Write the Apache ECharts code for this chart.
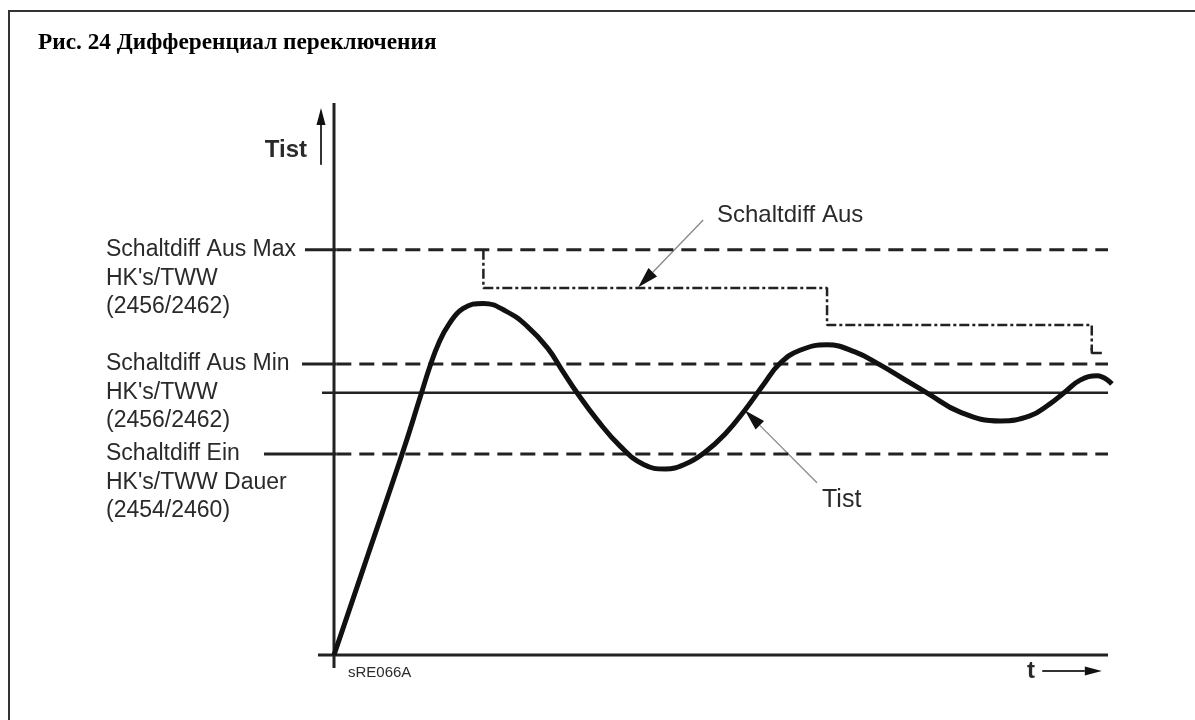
<!DOCTYPE html>
<html>
<head>
<meta charset="utf-8">
<script src="https://cdn.jsdelivr.net/npm/echarts@6/dist/echarts.min.js"></script>
<style>
    html, body { margin: 0; padding: 0; background: #fff; }
    #chart { width: 1195px; height: 720px; }
</style>
</head>
<body>
<div id="chart"></div>
<script>
// Istwert-Verlauf (t, Tist) in relativen Einheiten, t: 0..100, Tist: 0..100
const tistCurve = [
    [0, 0], [4.4, 18.2], [8.8, 36.4], [11.2, 47.0], [12.4, 52.3], [13.5, 56.4], [14.8, 59.8],
    [16.7, 62.8], [19.3, 63.7], [22.2, 62.3], [25.0, 59.5], [27.6, 55.6], [29.6, 51.3],
    [31.4, 47.5], [34.0, 42.6], [37.0, 37.8], [40.0, 34.5], [42.8, 33.7], [45.4, 34.6],
    [47.8, 36.6], [50.5, 40.0], [53.1, 44.4], [55.5, 49.0], [57.6, 52.8], [60.2, 55.2],
    [63.7, 56.2], [67.3, 54.9], [70.5, 52.6], [73.6, 50.0], [76.6, 47.5], [80.9, 44.0],
    [86.1, 42.4], [89.9, 43.3], [92.4, 45.4], [94.4, 47.6], [96.4, 49.8], [98.6, 50.6],
    [100.5, 49.1]
];

// Schaltdiff Aus (Stufenlinie, strichpunktiert) und kurzes Endstück
const schaltdiffAus = [
    [19.3, 73.4], [19.3, 66.5], [63.7, 66.5], [63.7, 59.8], [97.9, 59.8], [97.9, 55.2]
];
const schaltdiffAusTail = [[97.9, 55.6], [97.9, 54.7], [99.2, 54.7]];

// Schaltpegel: Aus Max, Aus Min, Sollwert, Ein
const levelValues = [73.4, 52.7, 47.5, 36.4];
const levelTickStart = [-3.75, -4.13, -1.55, -9.04];
const levelDashed = [true, true, false, true];
const levelLabels = [
    ['Schaltdiff Aus Max', "HK's/TWW", '(2456/2462)'],
    ['Schaltdiff Aus Min', "HK's/TWW", '(2456/2462)'],
    null,
    ['Schaltdiff Ein', "HK's/TWW Dauer", '(2454/2460)']
];

// Achsen
const xAxisLine = [[-2.07, 0], [100, 0]];
const yAxisLine = [[0, -2.36], [0, 100]];

// Pfeile [x1, y1, x2, y2]
const axisArrows = [
    [-1.68, 88.8, -1.68, 99.1],
    [91.5, -2.9, 99.2, -2.9]
];
const pointerArrows = [
    [47.7, 78.8, 39.3, 66.6],
    [62.4, 31.2, 53.1, 44.3]
];

var myChart = echarts.init(document.getElementById('chart'));

var ink = '#222';
var series = [];

function plainLine(data, style) {
    return {
        type: 'line',
        data: data,
        symbol: 'none',
        silent: true,
        animation: false,
        clip: false,
        lineStyle: style
    };
}

series.push(plainLine(xAxisLine, { color: ink, width: 3 }));
series.push(plainLine(yAxisLine, { color: ink, width: 3 }));

levelValues.forEach(function (v, i) {
    if (levelDashed[i]) {
        series.push(plainLine([[levelTickStart[i], v], [0.3, v]], { color: ink, width: 3 }));
        series.push(plainLine([[0.3, v], [100, v]], { color: ink, width: 3, type: [15, 8] }));
    } else {
        series.push(plainLine([[levelTickStart[i], v], [100, v]], { color: ink, width: 2.5 }));
    }
});

series.push(plainLine(schaltdiffAus, { color: ink, width: 2.5, type: [10, 3, 3, 3] }));
series.push(plainLine(schaltdiffAusTail, { color: ink, width: 2.5 }));

var curve = plainLine(tistCurve, { color: '#111', width: 5 });
curve.smooth = 0.45;
series.push(curve);

function arrowSeries(data, lineColor, lineWidth, headLen, headHalf) {
    return {
        type: 'custom',
        data: data,
        silent: true,
        animation: false,
        renderItem: function (params, api) {
            var p1 = api.coord([api.value(0), api.value(1)]);
            var p2 = api.coord([api.value(2), api.value(3)]);
            var dx = p2[0] - p1[0], dy = p2[1] - p1[1];
            var len = Math.sqrt(dx * dx + dy * dy);
            var ux = dx / len, uy = dy / len;
            var bx = p2[0] - ux * headLen, by = p2[1] - uy * headLen;
            return {
                type: 'group',
                children: [
                    {
                        type: 'line',
                        shape: { x1: p1[0], y1: p1[1], x2: bx, y2: by },
                        style: { stroke: lineColor, lineWidth: lineWidth }
                    },
                    {
                        type: 'polygon',
                        shape: { points: [p2, [bx - uy * headHalf, by + ux * headHalf], [bx + uy * headHalf, by - ux * headHalf]] },
                        style: { fill: '#111' }
                    }
                ]
            };
        }
    };
}

series.push(arrowSeries(axisArrows, '#333', 2, 17, 4.5));
series.push(arrowSeries(pointerArrows, '#888', 1.3, 21, 6));

myChart.setOption({
    animation: false,
    grid: { left: 256.6, top: 103, width: 866.9, height: 579.6 },
    xAxis: {
        type: 'value', min: -10, max: 102,
        axisLine: { show: false }, axisTick: { show: false },
        axisLabel: { show: false }, splitLine: { show: false }
    },
    yAxis: {
        type: 'value', min: -5, max: 100,
        axisLine: { show: false }, axisTick: { show: false },
        axisLabel: { show: false }, splitLine: { show: false }
    },
    series: series
});

// Texte
var sans = '"Liberation Sans", Arial, sans-serif';
var txtColor = '#2a2a2a';
var graphics = [
    {
        type: 'rect',
        shape: { x: 9, y: 11, width: 1300, height: 800 },
        style: { fill: 'none', stroke: '#333', lineWidth: 2 },
        silent: true
    },
    {
        type: 'text', x: 38, y: 43,
        style: {
            text: 'Рис. 24 Дифференциал переключения',
            font: 'bold 23.3px "Liberation Serif", "Times New Roman", serif',
            fill: '#000', verticalAlign: 'middle'
        }
    },
    {
        type: 'text', x: 307, y: 150,
        style: { text: 'Tist', font: 'bold 24px ' + sans, fill: txtColor, align: 'right', verticalAlign: 'middle' }
    },
    {
        type: 'text', x: 717, y: 215,
        style: { text: 'Schaltdiff Aus', font: '24px ' + sans, fill: txtColor, verticalAlign: 'middle' }
    },
    {
        type: 'text', x: 822, y: 500,
        style: { text: 'Tist', font: '25px ' + sans, fill: txtColor, verticalAlign: 'middle' }
    },
    {
        type: 'text', x: 348, y: 673,
        style: { text: 'sRE066A', font: '15px ' + sans, fill: txtColor, verticalAlign: 'middle' }
    },
    {
        type: 'text', x: 1027, y: 671,
        style: { text: 't', font: 'bold 24px ' + sans, fill: txtColor, verticalAlign: 'middle' }
    }
];

levelValues.forEach(function (v, i) {
    if (!levelLabels[i]) return;
    var py = myChart.convertToPixel({ gridIndex: 0 }, [0, v])[1];
    graphics.push({
        type: 'text', x: 106, y: py - 14.25,
        style: {
            text: levelLabels[i].join('\n'),
            font: '23px ' + sans, lineHeight: 28.5,
            fill: txtColor, verticalAlign: 'top'
        }
    });
});

myChart.setOption({ graphic: graphics });
</script>
</body>
</html>
